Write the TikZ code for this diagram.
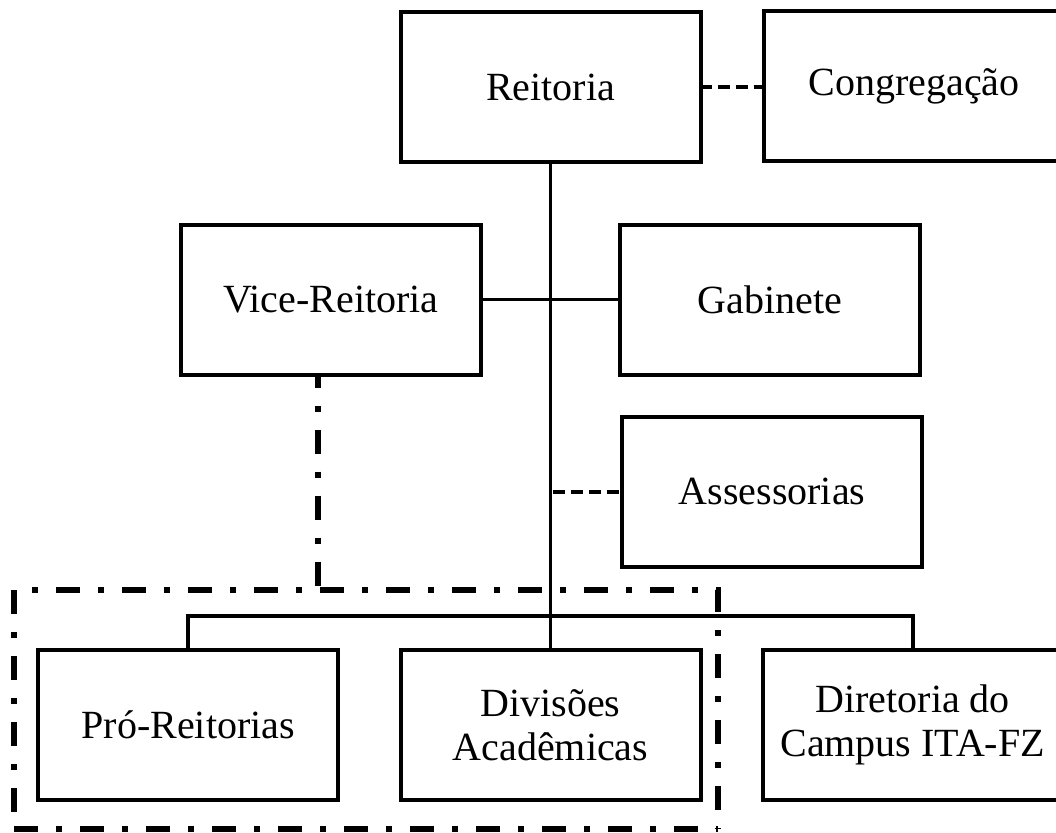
\documentclass[tikz,border=0pt]{standalone}
\usepackage{fontspec}
\setmainfont{Liberation Serif}
\begin{document}
\begin{tikzpicture}[x=1pt,y=-1pt,
  orgbox/.style={draw=black, line width=4pt, fill=white, minimum width=300pt, minimum height=150pt, inner sep=0pt, align=center, font=\fontsize{40}{44}\selectfont},
  conn/.style={draw=black, line width=3.8pt},
  dashconn/.style={draw=black, line width=3.6pt, dash pattern=on 12pt off 6pt},
  ddline/.style={draw=black, line width=5.5pt, dash pattern=on 24pt off 18pt on 6pt off 18pt}]
\useasboundingbox (0,0) rectangle (1056,832);
\node[orgbox] (reit) at (550.5,87) {Reitoria};
\node[orgbox] (cong) at (914,86) {Congregação};
\node[orgbox] (vr) at (331,299.5) {Vice-Reitoria};
\node[orgbox] (gab) at (770,299.5) {Gabinete};
\node[orgbox] (ass) at (772,491.7) {Assessorias};
\node[orgbox] (pro) at (188.3,725) {Pró-Reitorias};
\node[orgbox] (div) at (550.5,725) {Divisões\\Acadêmicas};
\node[orgbox] (dir) at (912.7,725) {Diretoria do\\Campus ITA-FZ};
% connectors
\draw[dashconn, dash phase=3pt] (reit.east) -- (reit.east -| cong.west);
\draw[conn] (reit.south) -- (div.north);
\draw[conn] (vr.east) -- (gab.west);
\draw[dashconn, dash phase=16pt] (ass.west -| reit.south) -- (ass.west);
\draw[conn] (pro.north) -- ++(0,-32) -| (dir.north);
% dash-dot group
\coordinate (grpTL) at (14,590);
\coordinate (grpTR) at (718,590);
\coordinate (grpBR) at (718,829);
\coordinate (grpBL) at (14,829);
\coordinate (grpTop) at (318,590);
\draw[ddline, dash phase=13pt] (vr.south -| grpTop) -- (grpTop);
\draw[ddline, dash phase=24pt] (grpTL) -- (grpTR) -- (grpBR);
\draw[ddline] (grpTL) -- (grpBL);
\draw[ddline] (grpBL) -- (grpBR);
\end{tikzpicture}
\end{document}
